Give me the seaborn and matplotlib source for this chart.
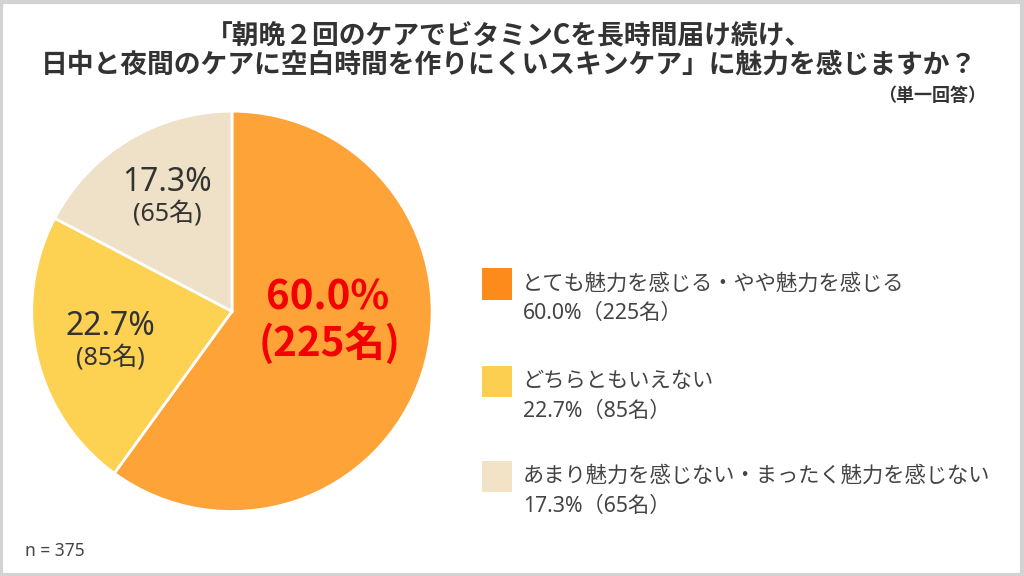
import matplotlib
matplotlib.use("Agg")
import matplotlib.pyplot as plt
from matplotlib.patches import Rectangle
import seaborn as sns

# data
categories = ["とても魅力を感じる・やや魅力を感じる", "どちらともいえない",
              "あまり魅力を感じない・まったく魅力を感じない"]
percents = [60.0, 22.7, 17.3]
counts = [225, 85, 65]
n_total = 375
pie_colors = ["#FDA337", "#FDD152", "#EFE1C7"]
legend_colors = ["#FC8B1C", "#FDCF50", "#F2E2C6"]

sns.set_theme(style="white")
plt.rcParams['font.family'] = ['Noto Sans', 'Noto Sans CJK JP', 'DejaVu Sans']
cjk = ['Noto Sans CJK JP', 'DejaVu Sans']

fig = plt.figure(figsize=(10.24, 5.76), dpi=100)
fig.patch.set_facecolor("white")

# frame around the whole picture
fig.patches.append(Rectangle((0.001, 0.002), 0.997, 0.995, transform=fig.transFigure,
                             fill=False, edgecolor="#D3D3D3", linewidth=3))

title = ("「朝晩２回のケアでビタミンCを長時間届け続け、\n"
         "日中と夜間のケアに空白時間を作りにくいスキンケア」に魅力を感じますか？")
fig.text(0.497, 0.912, title, ha="center", va="center", fontsize=19.3,
         fontweight="bold", color="#333333", linespacing=1.0, family=cjk)
fig.text(0.963, 0.834, "（単一回答）", ha="right", va="center", fontsize=13,
         fontweight="bold", color="#333333", family=cjk)

ax = fig.add_axes([0.031, 0.106, 0.391, 0.707])
wedges, _ = ax.pie(percents, colors=pie_colors, startangle=90, counterclock=False,
                   wedgeprops=dict(edgecolor="white", linewidth=2))
ax.set_xlim(-1.0, 1.0)
ax.set_ylim(-1.0, 1.0)
ax.set_aspect("equal")

# labels inside the slices
label_pos = [(0.48, -0.05), (-0.605, -0.155), (-0.325, 0.565)]
for i, (x, y) in enumerate(label_pos):
    if i == 0:
        ax.text(x, y + 0.115, f"{percents[i]:.1f}%", ha="center", va="center",
                fontsize=29, fontweight="bold", color="#F50000", family=cjk)
        ax.text(x + 0.01, y - 0.11, f"({counts[i]}名)", ha="center", va="center",
                fontsize=29, fontweight="bold", color="#F50000", family=cjk)
    else:
        ax.text(x, y + 0.078, f"{percents[i]:.1f}%", ha="center", va="center",
                fontsize=23, color="#333333")
        ax.text(x, y - 0.078, f"({counts[i]}名)", ha="center", va="center",
                fontsize=18, color="#333333")

# legend
leg_y = [0.507, 0.337, 0.173]
for i, y in enumerate(leg_y):
    fig.patches.append(Rectangle((0.471, y - 0.027), 0.029, 0.054,
                                 transform=fig.transFigure,
                                 facecolor=legend_colors[i], edgecolor="none"))
    fig.text(0.510, y, categories[i], ha="left", va="center", fontsize=15.3,
             color="#444444")
    fig.text(0.511, y - 0.052, f"{percents[i]:.1f}%（{counts[i]}名）", ha="left",
             va="center", fontsize=15.3, color="#444444")

fig.text(0.024, 0.043, f"n = {n_total}", ha="left", va="center", fontsize=12.5,
         color="#444444")

fig.savefig("out.png", dpi=100)
